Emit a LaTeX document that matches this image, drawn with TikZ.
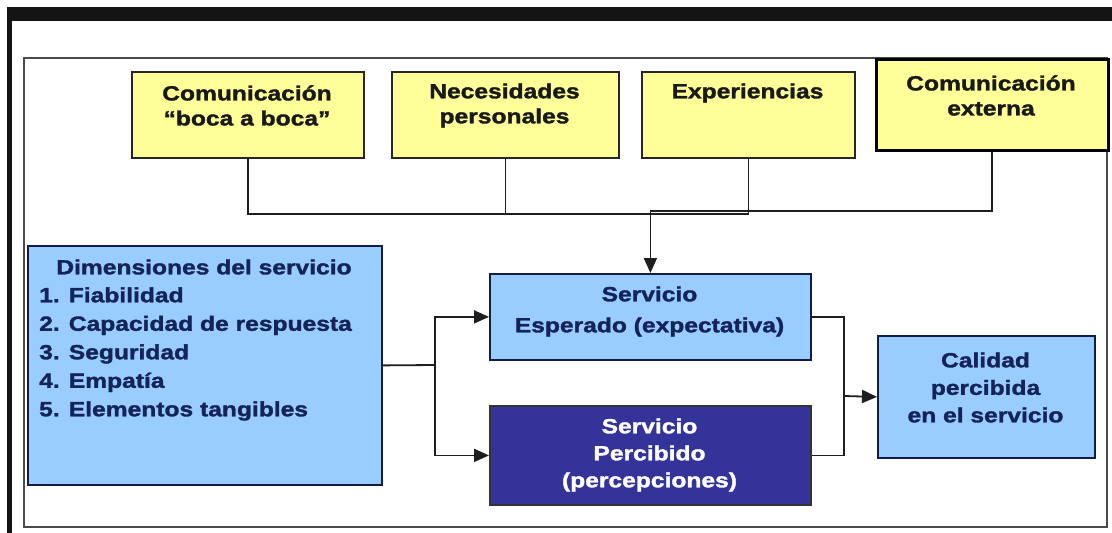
\documentclass[tikz,border=0pt]{standalone}
\usepackage{fontspec}
\setmainfont{Liberation Sans}[FakeStretch=1.2, BoldFeatures={FakeBold=1.6}]
\usetikzlibrary{arrows.meta}
\definecolor{ybox}{HTML}{FFFF99}
\definecolor{lblue}{HTML}{99CCFF}
\definecolor{dblue}{HTML}{333399}
\definecolor{navy}{HTML}{14245A}
\definecolor{lineg}{HTML}{1E1E1E}
\definecolor{frameg}{HTML}{4A4A4A}
\begin{document}
\begin{tikzpicture}[x=1pt,y=-1pt,
  bxfont/.style={font=\fontsize{20.5}{25}\selectfont\bfseries},
  ybx/.style={draw=black!85, line width=1.8pt, fill=ybox, inner sep=0pt, anchor=north west},
  bbx/.style={draw=navy!80!black, line width=1.8pt, fill=lblue, inner sep=0pt, anchor=north west},
  dbx/.style={draw=black!80, line width=1.8pt, fill=dblue, inner sep=0pt, anchor=north west},
  ytxt/.style={bxfont, text=black!90, align=center, inner sep=0pt},
  btxt/.style={bxfont, text=navy, align=center, inner sep=0pt},
  conn/.style={draw=lineg, line width=1.8pt},
  arr/.style={conn, -{Triangle[length=15pt,width=13pt]}}
]
\useasboundingbox (0,0) rectangle (1112,533);
\fill[white] (0,0) rectangle (1112,533);
% top band and left border
\fill[black!92] (7,7) rectangle (1112,21);
\fill[black!92] (7,7) rectangle (12,533);
% frame
\draw[frameg, line width=2pt] (24,58) rectangle (1107,527);

% yellow boxes
\node[ybx, minimum width=232pt, minimum height=86pt] (y1) at (131,71) {};
\node[ybx, minimum width=227pt, minimum height=86pt] (y2) at (391,71) {};
\node[ybx, minimum width=213pt, minimum height=86pt] (y3) at (641,71) {};
\node[ybx, draw=black, line width=2.6pt, minimum width=232pt, minimum height=91pt] (y4) at (875,58) {};
\node[ytxt] (y1t) at (247,105.5) {Comunicación\\“boca a boca”};
\node[ytxt] (y2t) at (504.5,105.5) {Necesidades\\personales};
\node[ytxt] (y3t) at (747.5,93) {Experiencias};
\node[ytxt] (y4t) at (991,95.5) {Comunicación\\externa};

% dimensions box
\node[bbx, minimum width=354pt, minimum height=239pt] (dims) at (27,245) {};
\node[btxt] (dimst) at (204,267) {Dimensiones del servicio};
\node[btxt, align=left, anchor=west, font=\fontsize{20.5}{28.5}\selectfont\bfseries] (dimsl) at (39,354)
  {1. Fiabilidad\\2. Capacidad de respuesta\\3. Seguridad\\4. Empatía\\5. Elementos tangibles};

% expected / perceived service
\node[bbx, minimum width=321pt, minimum height=86pt] (esp) at (489,273) {};
\node[btxt, font=\fontsize{20.5}{31}\selectfont\bfseries] (espt) at (649.5,311.5) {Servicio\\Esperado (expectativa)};
\node[dbx, minimum width=321pt, minimum height=99pt] (perc) at (489,405) {};
\node[btxt, text=white, font=\fontsize{20.5}{27}\selectfont\bfseries] (perct) at (649.5,455) {Servicio\\Percibido\\(percepciones)};

% quality box
\node[bbx, minimum width=217pt, minimum height=122pt] (cal) at (877,335) {};
\node[btxt, font=\fontsize{20.5}{27.5}\selectfont\bfseries] (calt) at (985.5,387.5) {Calidad\\percibida\\en el servicio};

% connectors from yellow boxes
\coordinate (j) at (0,214);
\coordinate (k) at (0,211);
\draw[conn] (y1.south) -- (y1.south |- j) -- (y3.south |- j) -- (y3.south);
\draw[conn] (y2.south) -- (y2.south |- j);
\draw[conn] (y4.south) -- (y4.south |- k) -- (esp.north |- k);
\draw[arr] (esp.north |- k) -- (esp.north);

% connectors from dimensions
\coordinate (bl) at (435,365);
\draw[conn] (dims.east) -- (bl);
\draw[arr] (bl) |- (esp.west);
\draw[arr] (bl) |- (perc.west);

% connectors to quality
\coordinate (br) at (844,396);
\draw[conn] (esp.east) -| (br);
\draw[conn] (perc.east) -| (br);
\draw[arr] (br) -- (cal.west);
\end{tikzpicture}
\end{document}
